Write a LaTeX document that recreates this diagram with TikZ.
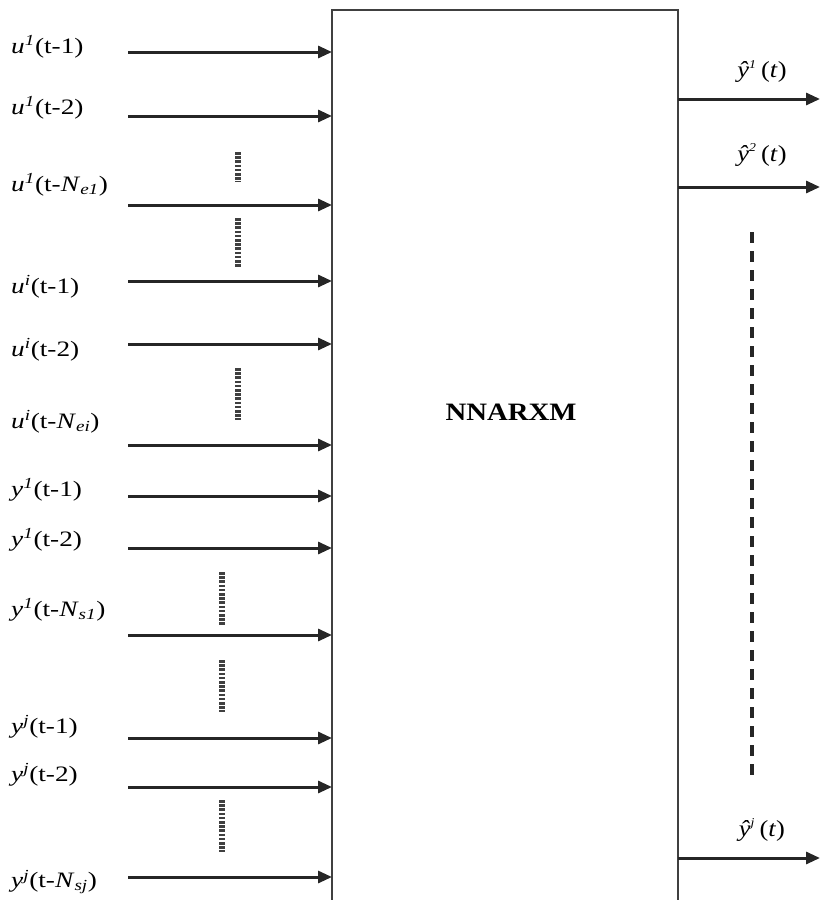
\documentclass[tikz,border=0pt]{standalone}
\usepackage{fontspec}
\setmainfont{Liberation Serif}
\usetikzlibrary{arrows.meta}
\tikzset{
  lbl/.style={anchor=west, inner sep=0pt, xscale=1.24, font=\fontsize{22}{25}\selectfont},
  olbl/.style={anchor=center, inner sep=0pt, xscale=1.15, font=\fontsize{23}{26}\selectfont},
  sig/.style={line width=3pt, draw=black!85, -{Triangle[length=14pt,width=12pt]}},
  dots/.style={line width=6pt, draw=black!75, dash pattern=on 2.6pt off 1.6pt},
  gap/.style={line width=4pt, draw=black!85, dash pattern=on 11pt off 8pt},
}
\newcommand{\iv}[1]{\textit{#1}}
\begin{document}
\begin{tikzpicture}[x=1pt,y=-1pt]
\useasboundingbox (0,0) rectangle (820,900);
% model block, open at the bottom
\draw[line width=1.5pt, draw=black!75] (332,903) -- (332,10) -- (678,10) -- (678,903);
\node[xscale=1.15, font=\fontsize{25}{28}\selectfont\bfseries] (model) at (511,412) {NNARXM};

% input signals: label, start point, end on the block
\foreach \n/\ly/\ay/\txt in {
  a/47/52/{\iv{u}\textsuperscript{\iv{1}}(t-1)},
  b/108/116/{\iv{u}\textsuperscript{\iv{1}}(t-2)},
  c/185/205/{\iv{u}\textsuperscript{\iv{1}}(t-\iv{N}\textsubscript{\iv{e1}})},
  d/287/281/{\iv{u}\textsuperscript{\iv{i}}(t-1)},
  e/350/344/{\iv{u}\textsuperscript{\iv{i}}(t-2)},
  f/422/445/{\iv{u}\textsuperscript{\iv{i}}(t-\iv{N}\textsubscript{\iv{ei}})},
  g/490/496/{\iv{y}\textsuperscript{\iv{1}}(t-1)},
  h/540/548/{\iv{y}\textsuperscript{\iv{1}}(t-2)},
  k/610/635/{\iv{y}\textsuperscript{\iv{1}}(t-\iv{N}\textsubscript{\iv{s1}})},
  l/727/738/{\iv{y}\textsuperscript{\iv{j}}(t-1)},
  m/775/787/{\iv{y}\textsuperscript{\iv{j}}(t-2)},
  n/882/877/{\iv{y}\textsuperscript{\iv{j}}(t-\iv{N}\textsubscript{\iv{sj}})}%
}{
  \node[lbl] (in-\n) at (11,\ly) {\txt};
  \coordinate (s-\n) at (128,\ay);
  \coordinate (e-\n) at (332,\ay);
  \draw[sig] (s-\n) -- (e-\n);
}

% omitted inputs
\coordinate (d1a) at (238,152); \coordinate (d1b) at (238,182);
\coordinate (d2a) at (238,218); \coordinate (d2b) at (238,268);
\coordinate (d3a) at (238,368); \coordinate (d3b) at (238,420);
\coordinate (d4a) at (222,572); \coordinate (d4b) at (222,625);
\coordinate (d5a) at (222,660); \coordinate (d5b) at (222,712);
\coordinate (d6a) at (222,800); \coordinate (d6b) at (222,852);
\foreach \k in {1,...,6}{\draw[dots] (d\k a) -- (d\k b);}

% outputs
\foreach \n/\ly/\ay/\idx in {o1/72/99/1, o2/155/187/2, oj/830/858/j}{
  \node[olbl] (lab-\n) at (762,\ly) {\iv{\^y}\textsuperscript{\fontsize{12}{12}\selectfont\iv{\idx}}\,(\iv{t})};
  \coordinate (os-\n) at (678,\ay);
  \coordinate (oe-\n) at (820,\ay);
  \draw[sig] (os-\n) -- (oe-\n);
}
\coordinate (g1) at (752,232); \coordinate (g2) at (752,780);
\draw[gap] (g1) -- (g2);
\end{tikzpicture}
\end{document}
